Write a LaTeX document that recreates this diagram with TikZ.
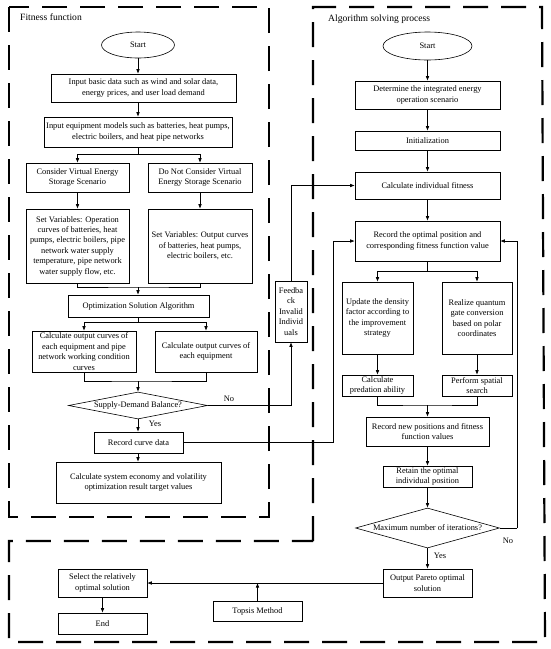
\documentclass[tikz,border=0pt]{standalone}
\usepackage{fontspec}
\setmainfont{Liberation Serif}
\usetikzlibrary{arrows.meta,shapes.geometric}
\begin{document}
\begin{tikzpicture}[x=1pt,y=-1pt,
  box/.style={draw, line width=0.6pt, align=center, inner sep=1pt, font=\fontsize{8.4}{10.4}\selectfont},
  oval/.style={draw, ellipse, line width=0.6pt, inner sep=0pt, font=\fontsize{8.4}{10.4}\selectfont},
  dia/.style={draw, diamond, line width=0.6pt, inner sep=0pt, align=center, font=\fontsize{8.4}{10.4}\selectfont},
  lbl/.style={font=\fontsize{8.4}{10.4}\selectfont, inner sep=0pt},
  title/.style={font=\fontsize{9.6}{11}\selectfont, inner sep=0pt, anchor=west},
  arr/.style={-{Latex[length=4.5pt,width=3.6pt]}, line width=0.6pt},
  ln/.style={line width=0.6pt},
  frame/.style={line width=2.2pt, dash pattern=on 25pt off 13pt}
]
\useasboundingbox (0,0) rectangle (550,649);

% frames
\draw[frame] (9,7) rectangle (269,517);
\draw[frame] (313,541) -- (313,7) -- (542,7) -- (545,642) -- (9,642) -- (9,541) -- cycle;

\node[title] (t1) at (20,17) {Fitness function};
\node[title] (t2) at (328,19) {Algorithm solving process};

% left column
\node[oval, minimum width=73pt, minimum height=26pt] (s1) at (138,45) {Start};
\node[box, minimum width=185pt, minimum height=28pt] (b1) at (143.5,88) {Input basic data such as wind and solar data,\\ energy prices, and user load demand};
\node[box, minimum width=188pt, minimum height=30pt] (b2) at (138,132) {Input equipment models such as batteries, heat pumps,\\ electric boilers, and heat pipe networks};
\node[box, minimum width=103pt, minimum height=29pt] (c1) at (77.5,177.5) {Consider Virtual Energy\\ Storage Scenario};
\node[box, minimum width=104pt, minimum height=29pt] (c2) at (200,177.5) {Do Not Consider Virtual\\ Energy Storage Scenario};
\node[box, minimum width=103pt, minimum height=74pt] (v1) at (77.5,246) {Set Variables: Operation\\ curves of batteries, heat\\ pumps, electric boilers, pipe\\ network water supply\\ temperature, pipe network\\ water supply flow, etc.};
\node[box, minimum width=104pt, minimum height=74pt] (v2) at (200,246) {Set Variables: Output curves\\ of batteries, heat pumps,\\ electric boilers, etc.};
\node[box, minimum width=141pt, minimum height=22pt] (opt) at (138.5,306) {Optimization Solution Algorithm};
\node[box, minimum width=104pt, minimum height=41pt] (e1) at (84,351.5) {Calculate output curves of\\ each equipment and pipe\\ network working condition\\ curves};
\node[box, minimum width=102pt, minimum height=41pt] (e2) at (206,351.5) {Calculate output curves of\\ each equipment};
\node[dia, minimum width=139pt, minimum height=27pt, aspect=5.1] (d1) at (138,405.5) {Supply-Demand Balance?};
\node[box, minimum width=89pt, minimum height=21pt] (rc) at (138.5,442.5) {Record curve data};
\node[box, minimum width=165pt, minimum height=41pt] (cs) at (138.5,482.5) {Calculate system economy and volatility\\ optimization result target values};
\node[box, minimum width=32pt, minimum height=61pt] (fb) at (291,311.5) {Feedba\\ ck\\ Invalid\\ Individ\\ uals};

% right column
\node[oval, minimum width=89pt, minimum height=28pt] (s2) at (427.5,46) {Start};
\node[box, minimum width=145pt, minimum height=28pt] (r1) at (427.5,95) {Determine the integrated energy\\ operation scenario};
\node[box, minimum width=145pt, minimum height=19pt] (r2) at (427.5,140.5) {Initialization};
\node[box, minimum width=145pt, minimum height=27pt] (r3) at (427.5,185.5) {Calculate individual fitness};
\node[box, minimum width=145pt, minimum height=40pt] (r4) at (427.5,241) {Record the optimal position and\\ corresponding fitness function value};
\node[box, minimum width=71pt, minimum height=72pt] (u1) at (377.5,318) {Update the density\\ factor according to\\ the improvement\\ strategy};
\node[box, minimum width=70pt, minimum height=72pt] (u2) at (477,318) {Realize quantum\\ gate conversion\\ based on polar\\ coordinates};
\node[box, minimum width=71pt, minimum height=21pt] (p1) at (377.5,385.5) {Calculate\\ predation ability};
\node[box, minimum width=70pt, minimum height=21pt] (p2) at (477,385.5) {Perform spatial\\ search};
\node[box, minimum width=123pt, minimum height=29pt] (r5) at (427.5,431.5) {Record new positions and fitness\\ function values};
\node[box, minimum width=89pt, minimum height=21pt] (r6) at (427.5,476.5) {Retain the optimal\\ individual position};
\node[dia, minimum width=144pt, minimum height=40pt, aspect=3.6] (d2) at (427.5,528) {Maximum number of iterations?};
\node[box, minimum width=89pt, minimum height=28pt] (op) at (427.5,583) {Output Pareto optimal\\ solution};
\node[box, minimum width=89pt, minimum height=28pt] (sel) at (102.5,583) {Select the relatively\\ optimal solution};
\node[box, minimum width=89pt, minimum height=21pt] (en) at (102.5,623.5) {End};
\node[box, minimum width=89pt, minimum height=20pt] (tp) at (257.5,611) {Topsis Method};

% labels
\node[lbl] (no1) at (229,399) {No};
\node[lbl] (yes1) at (155,424) {Yes};
\node[lbl] (no2) at (508,541) {No};
\node[lbl] (yes2) at (440,556) {Yes};

% junction coordinates
\coordinate (j1) at (138,154);
\coordinate (j2) at (138,287);
\coordinate (j3) at (138,322);
\coordinate (j4) at (138,381);
\coordinate (k1) at (427.5,271);
\coordinate (k2) at (427.5,405);
\coordinate (fbc) at (291,405.5);
\coordinate (rcc) at (333,442.5);
\coordinate (d2c) at (517,528);

% left connectors
\draw[arr] (s1.south) -- (s1.south |- b1.north);
\draw[arr] (b1.south -| s1.south) -- (b2.north);
\draw[ln] (b2.south) -- (j1);
\draw[arr] (j1) -| (c1.north);
\draw[arr] (j1) -| (c2.north);
\draw[arr] (c1) -- (v1);
\draw[arr] (c2) -- (v2);
\draw[ln] (v1.south) |- (j2) -| (v2.south);
\draw[arr] (j2) -- (j2 |- opt.north);
\draw[ln] (opt.south -| j3) -- (j3);
\draw[arr] (j3) -| (e1.north);
\draw[arr] (j3) -| (e2.north);
\draw[ln] (e1.south) |- (j4) -| (e2.south);
\draw[arr] (j4) -- (d1.north);
\draw[ln] (d1.east) -- (fbc);
\draw[arr] (fbc) -- (fb.south);
\draw[arr] (fb.north) |- (r3.west);
\draw[arr] (d1.south) -- (d1.south |- rc.north);
\draw[ln] (rc.east) -- (rcc);
\draw[arr] (rcc) |- (r4.west);
\draw[arr] (rc.south -| j4) -- (j4 |- cs.north);

% right connectors
\draw[arr] (s2) -- (r1);
\draw[arr] (r1) -- (r2);
\draw[arr] (r2) -- (r3);
\draw[arr] (r3) -- (r4);
\draw[ln] (r4.south) -- (k1);
\draw[arr] (k1) -| (u1.north);
\draw[arr] (k1) -| (u2.north);
\draw[arr] (u1) -- (p1);
\draw[arr] (u2) -- (p2);
\draw[ln] (p1.south) |- (k2) -| (p2.south);
\draw[arr] (k2) -- (r5.north);
\draw[arr] (r5) -- (r6);
\draw[arr] (r6) -- (d2.north);
\draw[ln] (d2.east) -- (d2c);
\draw[arr] (d2c) |- (r4.east);
\draw[arr] (d2.south) -- (op.north);
\draw[arr] (op.west) -- (sel.east);
\draw[arr] (tp.north) -- (tp.north |- op.west);
\draw[arr] (sel) -- (en);
\end{tikzpicture}
\end{document}
